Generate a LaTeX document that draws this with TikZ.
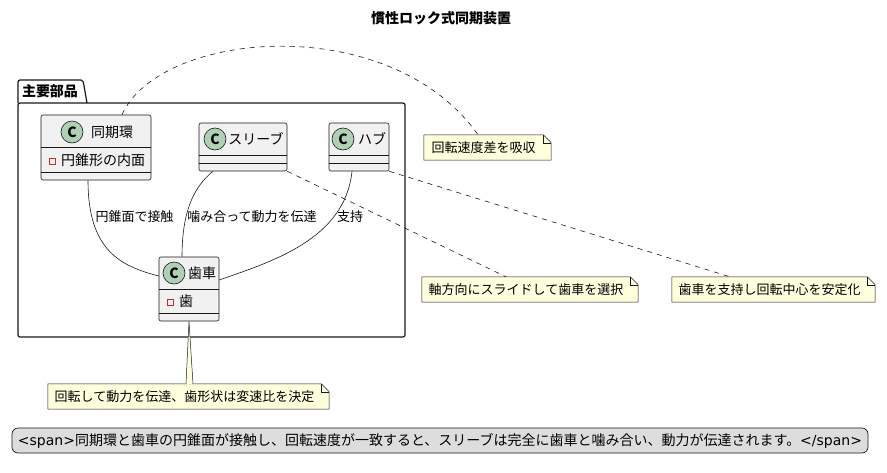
\documentclass[tikz,border=0pt]{standalone}
\usepackage{fontspec}
\setmainfont{Noto Sans CJK JP}
\newfontfamily\latinfont{DejaVu Sans}
\usetikzlibrary{backgrounds}

\definecolor{classbg}{HTML}{F1F1F1}
\definecolor{linecol}{HTML}{181818}
\definecolor{circbg}{HTML}{ADD1B2}
\definecolor{notebg}{HTML}{FEFFDD}
\definecolor{legbg}{HTML}{DDDDDD}
\definecolor{attrred}{HTML}{C82930}

\begin{document}
\begin{tikzpicture}[x=1pt, y=-1pt,
  txt/.style={font=\fontsize{14}{16}\selectfont, inner sep=0pt},
  lbl/.style={font=\fontsize{13}{15}\selectfont, inner sep=0pt},
  bigtxt/.style={font=\fontsize{14}{16}\selectfont\bfseries, inner sep=0pt},
  classbox/.style={draw=linecol, fill=classbg, rounded corners=2pt, line width=0.6pt, inner sep=0pt},
  cmark/.style={circle, draw=linecol, fill=circbg, minimum size=22pt, inner sep=0pt, line width=0.6pt,
    font=\fontsize{14}{14}\selectfont\bfseries},
  attrsq/.style={draw=attrred, minimum size=6pt, inner sep=0pt, line width=0.7pt},
  sepline/.style={draw=linecol, line width=0.6pt},
  edge/.style={draw=linecol, line width=0.6pt},
  dashedge/.style={draw=linecol, line width=0.6pt, dash pattern=on 5pt off 5pt},
  notebox/.style={font=\fontsize{13}{15}\selectfont, inner sep=0pt},
  noteshape/.style={draw=linecol, fill=notebg, line width=0.5pt},
  legend/.style={draw=linecol, fill=legbg, rounded corners=6pt, line width=0.7pt, inner sep=0pt,
    minimum width=856pt, minimum height=25pt, font=\fontsize{14}{16}\selectfont}
]

    \useasboundingbox (0,0) rectangle (887,472);

    % title
    \node[bigtxt] (title) at (441,18) {慣性ロック式同期装置};

    % package
    \draw[draw=linecol, line width=1.2pt, rounded corners=2pt] (18,103) -- (18,80) -- (83,80) -- (87,103);
    \draw[draw=linecol, line width=1.2pt, rounded corners=2pt] (18,103) rectangle (405,337);
    \node[bigtxt] (pkgname) at (50,91) {主要部品};

    % classes
    \node[classbox, minimum width=110pt, minimum height=65pt] (ring) at (96,147.5) {};
    \draw[sepline] (ring.west |- 0,147) -- (ring.east |- 0,147);
    \draw[sepline] (ring.west |- 0,172) -- (ring.east |- 0,172);
    \node[cmark] (ringC) at (72,132) {C};
    \node[txt] (ringT) at (112,132) {同期環};
    \node[attrsq] (ringSq) at (52,161) {};
    \node[txt, anchor=west] (ringA) at (61,160) {円錐形の内面};

    \node[classbox, minimum width=88pt, minimum height=48pt] (sleeve) at (243,147) {};
    \draw[sepline] (sleeve.west |- 0,155) -- (sleeve.east |- 0,155);
    \draw[sepline] (sleeve.west |- 0,163) -- (sleeve.east |- 0,163);
    \node[cmark] (sleeveC) at (215,139) {C};
    \node[txt] (sleeveT) at (256,139) {スリーブ};

    \node[classbox, minimum width=60pt, minimum height=48pt] (hub) at (359,147) {};
    \draw[sepline] (hub.west |- 0,155) -- (hub.east |- 0,155);
    \draw[sepline] (hub.west |- 0,163) -- (hub.east |- 0,163);
    \node[cmark] (hubC) at (343,139) {C};
    \node[txt] (hubT) at (372,139) {ハブ};

    \node[classbox, minimum width=60pt, minimum height=64pt] (gear) at (189,289) {};
    \draw[sepline] (gear.west |- 0,289) -- (gear.east |- 0,289);
    \draw[sepline] (gear.west |- 0,313) -- (gear.east |- 0,313);
    \node[cmark] (gearC) at (174,273) {C};
    \node[txt] (gearT) at (202,273) {歯車};
    \node[attrsq] (gearSq) at (170,302) {};
    \node[txt] (gearA) at (186,301) {歯};

    % links
    \draw[edge] ([xshift=-8pt]ring.south) .. controls (88,250) and (120,266) .. ([yshift=13pt]gear.west);
    \draw[edge] ([xshift=-30pt]sleeve.south) .. controls (192,188) and (182,215) .. ([xshift=-7pt]gear.north);
    \draw[edge] ([xshift=-7pt]hub.south) .. controls (345,240) and (270,262) .. ([yshift=9pt]gear.east);
    \node[lbl] (lRing) at (134.5,217) {円錐面で接触};
    \node[lbl] (lSleeve) at (252,217) {噛み合って動力を伝達};
    \node[lbl] (lHub) at (350,217) {支持};

    % notes
    \node[notebox, minimum width=127pt, minimum height=25pt] (n1) at (487.5,147.5) {回転速度差を吸収\hspace*{8pt}};
    \node[notebox, minimum width=216pt, minimum height=25pt] (n2) at (530,289.5) {軸方向にスライドして歯車を選択\hspace*{8pt}};
    \node[notebox, minimum width=203pt, minimum height=25pt] (n3) at (773.5,289.5) {歯車を支持し回転中心を安定化\hspace*{8pt}};
    \node[notebox, minimum width=281pt, minimum height=25pt] (n4) at (188.5,396.5) {回転して動力を伝達、歯形状は変速比を決定\hspace*{8pt}};

    \begin{scope}[on background layer]
        \foreach \n in {n1,n2,n3,n4} {
            \filldraw[noteshape] (\n.north west) -- ([xshift=-8pt]\n.north east) -- ([yshift=-8pt]\n.north east)
                -- (\n.south east) -- (\n.south west) -- cycle;
            \draw[noteshape, fill=none] ([xshift=-8pt]\n.north east) |- ([yshift=-8pt]\n.north east);
        }
    \end{scope}

    \fill[notebg] (gear.south) -- ([xshift=-2.5pt,yshift=-0.6pt]n4.north) -- ([xshift=4.5pt,yshift=-0.6pt]n4.north) -- cycle;
    \draw[noteshape, fill=none] ([xshift=-2.5pt]n4.north) -- (gear.south) -- ([xshift=4.5pt]n4.north);

    \draw[dashedge] ([xshift=26pt]ring.north) .. controls (160,30) and (390,10) .. ([xshift=-9.5pt]n1.north);
    \draw[dashedge] (sleeve.south east) -- ([xshift=-24pt]n2.north);
    \draw[dashedge] (hub.south east) -- ([xshift=-43.5pt]n3.north);

    % legend
    \node[legend] (leg) at (440,440.5) {{\latinfont <span>}同期環と歯車の円錐面が接触し、回転速度が一致すると、スリーブは完全に歯車と噛み合い、動力が伝達されます。{\latinfont </span>}};

\end{tikzpicture}
\end{document}
